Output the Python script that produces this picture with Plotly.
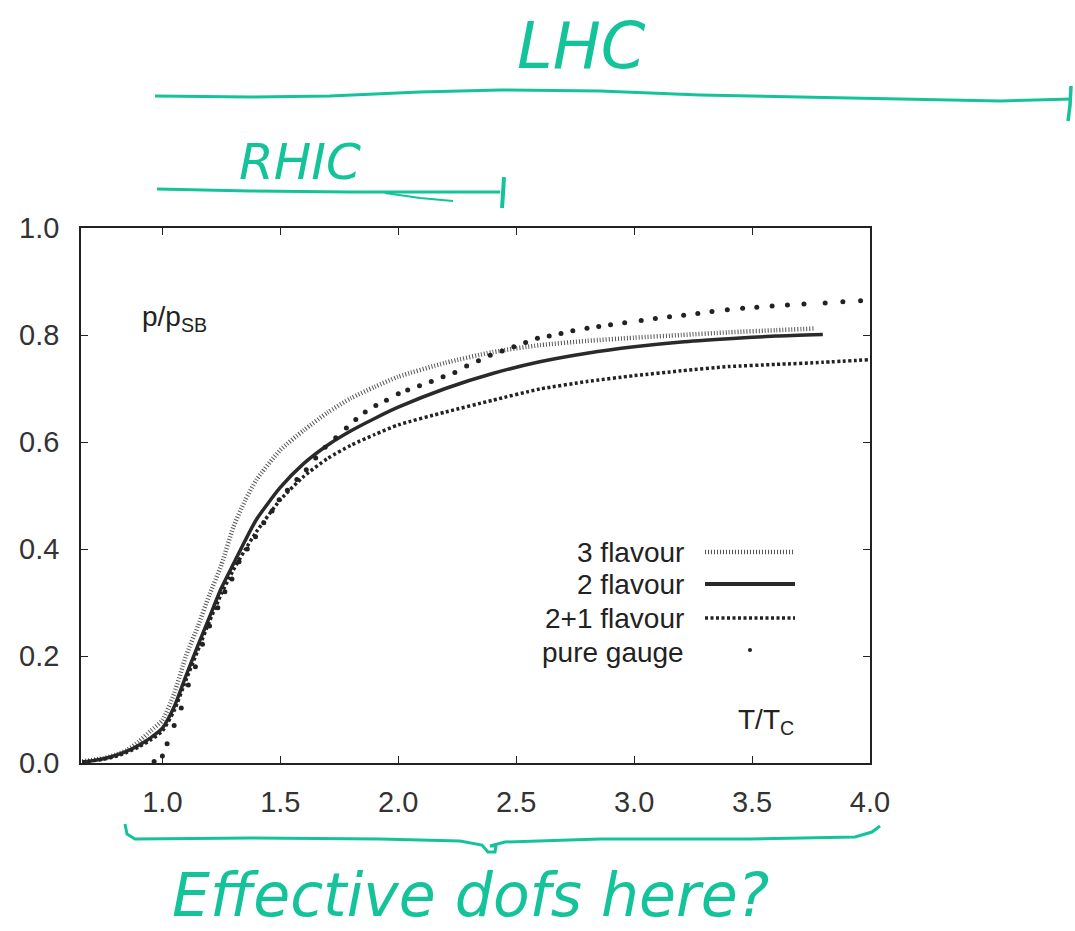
import plotly.graph_objects as go

# Lattice QCD pressure over Stefan-Boltzmann limit vs T/Tc
t_3f = [0.66, 0.75, 0.80, 0.85, 0.90, 0.95, 1.00, 1.05, 1.10, 1.15, 1.20, 1.25, 1.30,
        1.35, 1.40, 1.50, 1.60, 1.70, 1.80, 1.90, 2.00, 2.20, 2.40, 2.60, 2.80, 3.00,
        3.20, 3.40, 3.60, 3.76]
p_3f = [0.003, 0.009, 0.015, 0.024, 0.040, 0.060, 0.080, 0.130, 0.200, 0.255, 0.315, 0.370,
        0.440, 0.490, 0.530, 0.585, 0.622, 0.655, 0.682, 0.703, 0.722, 0.748, 0.768, 0.781,
        0.789, 0.795, 0.800, 0.805, 0.809, 0.812]

t_2f = [0.66, 0.70, 0.75, 0.80, 0.85, 0.90, 0.95, 1.00, 1.05, 1.10, 1.15, 1.20, 1.25, 1.30,
        1.35, 1.40, 1.50, 1.60, 1.70, 1.80, 1.90, 2.00, 2.20, 2.40, 2.60, 2.80, 3.00, 3.20,
        3.40, 3.60, 3.80]
p_2f = [0.002, 0.004, 0.008, 0.014, 0.022, 0.033, 0.047, 0.065, 0.105, 0.163, 0.219, 0.273,
        0.327, 0.371, 0.415, 0.456, 0.515, 0.560, 0.594, 0.621, 0.644, 0.665, 0.700, 0.728,
        0.750, 0.766, 0.778, 0.787, 0.793, 0.798, 0.801]

t_21f = [0.66, 0.75, 0.80, 0.85, 0.90, 0.95, 1.00, 1.05, 1.10, 1.15, 1.20, 1.25, 1.30, 1.35,
         1.40, 1.50, 1.60, 1.70, 1.80, 1.90, 2.00, 2.20, 2.40, 2.60, 2.80, 3.00, 3.20, 3.40,
         3.60, 3.80, 4.00]
p_21f = [0.002, 0.007, 0.012, 0.020, 0.030, 0.043, 0.060, 0.098, 0.155, 0.210, 0.265, 0.316,
         0.360, 0.398, 0.433, 0.492, 0.536, 0.569, 0.594, 0.614, 0.632, 0.656, 0.678, 0.699,
         0.713, 0.724, 0.733, 0.741, 0.745, 0.749, 0.754]

t_pg = [0.965, 1.00, 1.02, 1.05, 1.08, 1.11, 1.14, 1.17, 1.20, 1.235, 1.265, 1.295, 1.325,
        1.36, 1.395, 1.43, 1.465, 1.495, 1.53, 1.57, 1.61, 1.65, 1.69, 1.735, 1.78, 1.82,
        1.86, 1.905, 1.95, 2.00, 2.04, 2.09, 2.14, 2.19, 2.24, 2.29, 2.34, 2.39, 2.44, 2.49,
        2.54, 2.59, 2.64, 2.69, 2.74, 2.80, 2.85, 2.90, 2.96, 3.03, 3.09, 3.15, 3.21, 3.27,
        3.33, 3.395, 3.46, 3.52, 3.585, 3.65, 3.72, 3.81, 3.885, 3.96]
p_pg = [0.003, 0.013, 0.036, 0.070, 0.103, 0.146, 0.180, 0.222, 0.256, 0.290, 0.320, 0.344,
        0.376, 0.400, 0.423, 0.449, 0.471, 0.492, 0.510, 0.530, 0.548, 0.570, 0.590, 0.608,
        0.626, 0.642, 0.656, 0.668, 0.678, 0.690, 0.697, 0.705, 0.713, 0.722, 0.730, 0.742,
        0.752, 0.762, 0.770, 0.778, 0.786, 0.794, 0.798, 0.803, 0.808, 0.8125, 0.816, 0.819,
        0.823, 0.827, 0.831, 0.834, 0.837, 0.840, 0.844, 0.847, 0.850, 0.852, 0.854, 0.856,
        0.858, 0.860, 0.862, 0.864]

legend_labels = ["3 flavour", "2 flavour", "2+1 flavour", "pure gauge"]
x_ticks = [1.0, 1.5, 2.0, 2.5, 3.0, 3.5, 4.0]
y_ticks = [0.0, 0.2, 0.4, 0.6, 0.8, 1.0]

W, H = 1075, 931
L, R, T, B = 81, 870, 228, 763
INK = "#14c39a"
FONT = "Liberation Sans, Arial, sans-serif"
HAND = "DejaVu Sans, sans-serif"


def px(x):
    return (x - L) / (R - L)


def py(y):
    return (B - y) / (B - T)


def path(points):
    s = "M {:.4f},{:.4f}".format(px(points[0][0]), py(points[0][1]))
    for x, y in points[1:]:
        s += " L {:.4f},{:.4f}".format(px(x), py(y))
    return s


fig = go.Figure()
fig.add_trace(go.Scatter(x=t_3f, y=p_3f, mode="lines",
                         line=dict(color="#555", width=4.5, dash="1px,2px", shape="spline", smoothing=0.6),
                         showlegend=False))
fig.add_trace(go.Scatter(x=t_2f, y=p_2f, mode="lines",
                         line=dict(color="#2a2a2a", width=3.5, shape="spline", smoothing=0.6),
                         showlegend=False))
fig.add_trace(go.Scatter(x=t_21f, y=p_21f, mode="lines",
                         line=dict(color="#222", width=3.5, dash="3px,2.5px", shape="spline", smoothing=0.6),
                         showlegend=False))
fig.add_trace(go.Scatter(x=t_pg, y=p_pg, mode="markers", marker=dict(color="#222", size=5), showlegend=False))

shapes = []
annotations = []

# legend: text right-aligned, line sample to its right
leg_y = [552, 584, 618, 652]
styles = [dict(color="#555", width=4.5, dash="1px,2px"),
          dict(color="#2a2a2a", width=4),
          dict(color="#222", width=3.5, dash="3px,2.5px")]
for i, lab in enumerate(legend_labels):
    annotations.append(dict(x=px(686), y=py(leg_y[i]), xref="paper", yref="paper", text=lab, showarrow=False,
                            xanchor="right", yanchor="middle", font=dict(family=FONT, size=28, color="#222")))
    if i < 3:
        shapes.append(dict(type="line", xref="paper", yref="paper", x0=px(705), x1=px(795),
                           y0=py(leg_y[i]), y1=py(leg_y[i]), line=styles[i]))
shapes.append(dict(type="circle", xref="paper", yref="paper", x0=px(748), x1=px(752), y0=py(648), y1=py(652),
                   fillcolor="#222", line=dict(width=0)))

annotations.append(dict(x=px(140), y=py(318), xref="paper", yref="paper", text="p/p<sub>SB</sub>", showarrow=False,
                        xanchor="left", yanchor="middle", font=dict(family=FONT, size=28, color="#222")))
annotations.append(dict(x=px(796), y=py(721), xref="paper", yref="paper", text="T/T<sub>C</sub>", showarrow=False,
                        xanchor="right", yanchor="middle", font=dict(family=FONT, size=28, color="#222")))

# green handwritten notes
annotations.append(dict(x=px(581), y=py(46), xref="paper", yref="paper", text="LHC", showarrow=False,
                        xanchor="center", yanchor="middle",
                        font=dict(family=HAND, size=64, color=INK, style="italic", weight=200)))
annotations.append(dict(x=px(300), y=py(162), xref="paper", yref="paper", text="RHIC", showarrow=False,
                        xanchor="center", yanchor="middle",
                        font=dict(family=HAND, size=50, color=INK, style="italic", weight=200)))
annotations.append(dict(x=px(470), y=py(895), xref="paper", yref="paper", text="Effective dofs here?", showarrow=False,
                        xanchor="center", yanchor="middle",
                        font=dict(family=HAND, size=60, color=INK, style="italic", weight=200)))

pen = dict(color=INK, width=3)
shapes.append(dict(type="path", xref="paper", yref="paper", line=pen,
                   path=path([(155, 96), (250, 97), (330, 96), (420, 92), (500, 90), (600, 91), (700, 95),
                              (800, 97), (900, 99), (1000, 101), (1072, 99)])))
shapes.append(dict(type="path", xref="paper", yref="paper", line=dict(color=INK, width=3.5),
                   path=path([(1071, 86), (1070, 105), (1068, 121)])))
shapes.append(dict(type="path", xref="paper", yref="paper", line=pen,
                   path=path([(157, 189), (250, 191), (350, 192), (430, 192), (500, 192)])))
shapes.append(dict(type="path", xref="paper", yref="paper", line=dict(color=INK, width=2),
                   path=path([(385, 193), (420, 198), (453, 201)])))
shapes.append(dict(type="path", xref="paper", yref="paper", line=dict(color=INK, width=4),
                   path=path([(504, 177), (503, 193), (502, 208)])))
shapes.append(dict(type="path", xref="paper", yref="paper", line=pen,
                   path=path([(125, 824), (127, 834), (135, 839), (250, 838), (380, 839), (460, 841),
                              (482, 845), (488, 852), (495, 852), (496, 846), (490, 846), (505, 842),
                              (600, 839), (750, 839), (855, 837), (872, 832), (880, 826)])))

fig.update_layout(
    width=W, height=H,
    margin=dict(l=L, r=W - R, t=T, b=H - B),
    paper_bgcolor="white", plot_bgcolor="white",
    shapes=shapes, annotations=annotations,
    xaxis=dict(range=[0.655, 4.0], tickvals=x_ticks, ticktext=["%.1f" % v for v in x_ticks],
               showgrid=False, zeroline=False, showline=True, linecolor="#222", linewidth=1.5, mirror="ticks",
               ticks="inside", ticklen=7, tickcolor="#222", tickwidth=1.2, ticklabelstandoff=12,
               tickfont=dict(family=FONT, size=29, color="#333")),
    yaxis=dict(range=[0.0, 1.0], tickvals=y_ticks, ticktext=["%.1f" % v for v in y_ticks],
               showgrid=False, zeroline=False, showline=True, linecolor="#222", linewidth=1.5, mirror="ticks",
               ticks="inside", ticklen=7, tickcolor="#222", tickwidth=1.2, ticklabelstandoff=14,
               tickfont=dict(family=FONT, size=29, color="#333")),
)

fig.write_html("out.html")
